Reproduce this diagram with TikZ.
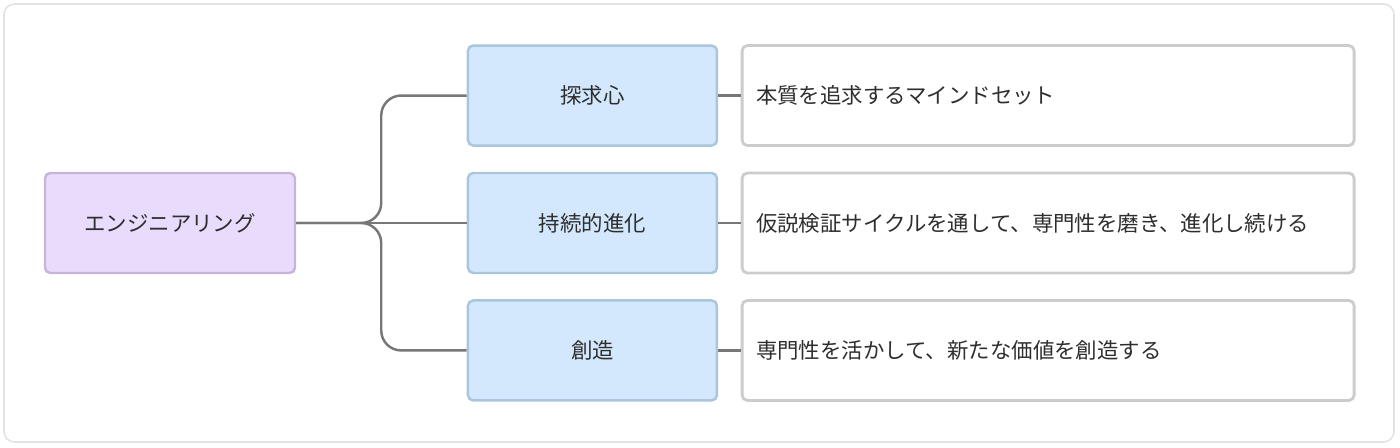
\documentclass[tikz,border=0pt]{standalone}
\usepackage{fontspec}
\setmainfont{Noto Sans CJK JP}
\usepackage{tikz}
\usetikzlibrary{positioning,calc}
\usepackage{xcolor}
\definecolor{rootfill}{HTML}{E9DBFC}
\definecolor{rootline}{HTML}{C7B4DA}
\definecolor{topicfill}{HTML}{D3E8FC}
\definecolor{topicline}{HTML}{ABC6DA}
\definecolor{noteline}{HTML}{CCCCCC}
\definecolor{frameline}{HTML}{E2E2E2}
\definecolor{linkgray}{HTML}{777777}
\definecolor{txt}{HTML}{2E2E2E}

\begin{document}
\begin{tikzpicture}[
    font=\fontsize{12.2}{14}\selectfont, text=txt,
    root/.style={draw=rootline, fill=rootfill, line width=1.4pt, rounded corners=3pt, minimum width=5cm, minimum height=2cm},
    topic/.style={draw=topicline, fill=topicfill, line width=1.4pt, rounded corners=3pt, minimum width=4.98cm, minimum height=2cm},
    note/.style={draw=noteline, fill=white, line width=1.6pt, rounded corners=3pt, text width=11.68cm, inner xsep=0.28cm, align=left, minimum height=2cm},
    link/.style={draw=linkgray, line width=1.4pt}
  ]
    \useasboundingbox (0,0) rectangle (28,-8.96);
    \draw[frameline, line width=0.9pt, rounded corners=6pt] (0.08,-0.08) rectangle (27.88,-8.84);

    \node[root] (eng) at (3.4,-4.46) {エンジニアリング};
    \node[topic, right=3.41cm of eng] (tankyu) {持続的進化};
    \node[topic, above=0.5cm of tankyu] (shin) {探求心};
    \node[topic, below=0.5cm of tankyu] (sozo) {創造};
    \node[note, right=0.45cm of shin] (n1) {本質を追求するマインドセット};
    \node[note, right=0.45cm of tankyu] (n2) {仮説検証サイクルを通して、専門性を磨き、進化し続ける};
    \node[note, right=0.45cm of sozo] (n3) {専門性を活かして、新たな価値を創造する};

    % branches
    \coordinate (fork) at ($(eng.east)+(1.7,0)$);
    \draw[link] (eng.east) -- (tankyu.west);
    \draw[link, rounded corners=0.4cm] (shin.west) -| (fork) -- (eng.east);
    \draw[link, rounded corners=0.4cm] (sozo.west) -| (fork) -- (eng.east);
    \draw[link] (shin.east) -- (n1.west);
    \draw[link] (tankyu.east) -- (n2.west);
    \draw[link] (sozo.east) -- (n3.west);
  \end{tikzpicture}
\end{document}
